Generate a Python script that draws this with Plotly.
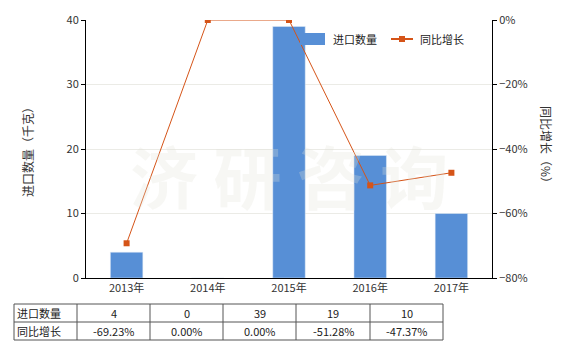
import plotly.graph_objects as go

years = ["2013年", "2014年", "2015年", "2016年", "2017年"]
qty = [4, 0, 39, 19, 10]
growth = [-69.23, 0.00, 0.00, -51.28, -47.37]
qty_labels = ["4", "0", "39", "19", "10"]
growth_labels = ["-69.23%", "0.00%", "0.00%", "-51.28%", "-47.37%"]
row_names = ["进口数量", "同比增长"]

W, H = 580, 350
L, R, T, B = 86, 492, 20, 278
FONT = "Noto Sans CJK SC, Microsoft YaHei, sans-serif"
BAR = "#578fd6"
LINE = "#d55418"

def px(x):
    return (x - L) / (R - L)

def py(y):
    return (B - y) / (B - T)

fig = go.Figure()
fig.add_trace(go.Bar(x=years, y=qty, name="进口数量", marker_color=BAR,
                     width=0.4, yaxis="y", showlegend=False))
fig.add_trace(go.Scatter(x=years, y=growth, name="同比增长", mode="lines+markers",
                         line=dict(color=LINE, width=1),
                         marker=dict(symbol="square", size=6, color=LINE),
                         yaxis="y2", showlegend=False))

shapes = []
annotations = []

# watermark
annotations.append(dict(text="<b>济 研 咨 询</b>", x=0.5, y=0.4, xref="paper", yref="paper",
                        showarrow=False, font=dict(size=68, color="rgba(225,225,215,0.28)",
                                                   family=FONT)))

# right axis title (rotated clockwise)
annotations.append(dict(text="同比增长（%）", x=px(547), y=py(147), xref="paper", yref="paper",
                        textangle=90, xanchor="center", yanchor="middle", showarrow=False,
                        font=dict(size=12, color="#333", family=FONT)))

# manual legend
shapes.append(dict(type="rect", xref="paper", yref="paper",
                   x0=px(300), x1=px(325), y0=py(45), y1=py(33),
                   fillcolor=BAR, line=dict(width=0)))
annotations.append(dict(text="进口数量", x=px(331), y=py(39), xref="paper", yref="paper",
                        xanchor="left", yanchor="middle", showarrow=False,
                        font=dict(size=11, color="#222", family=FONT)))
shapes.append(dict(type="line", xref="paper", yref="paper",
                   x0=px(391), x1=px(413), y0=py(39), y1=py(39),
                   line=dict(color=LINE, width=2)))
shapes.append(dict(type="rect", xref="paper", yref="paper",
                   x0=px(399), x1=px(405), y0=py(42), y1=py(36),
                   fillcolor=LINE, line=dict(width=0)))
annotations.append(dict(text="同比增长", x=px(418), y=py(39), xref="paper", yref="paper",
                        xanchor="left", yanchor="middle", showarrow=False,
                        font=dict(size=11, color="#222", family=FONT)))

# table
col_x = [14, 77, 150, 223, 296, 370, 443]
row_y = [304, 322, 340]
line_col = "#555555"
for y in row_y:
    shapes.append(dict(type="line", xref="paper", yref="paper",
                       x0=px(col_x[0]), x1=px(col_x[-1]), y0=py(y), y1=py(y),
                       line=dict(color=line_col, width=1)))
for x in col_x:
    shapes.append(dict(type="line", xref="paper", yref="paper",
                       x0=px(x), x1=px(x), y0=py(row_y[0]), y1=py(row_y[-1]),
                       line=dict(color=line_col, width=1)))
rows = [qty_labels, growth_labels]
for r, (name, vals) in enumerate(zip(row_names, rows)):
    yc = (row_y[r] + row_y[r + 1]) / 2
    annotations.append(dict(text=name, x=px(col_x[0] + 1), y=py(yc), xref="paper", yref="paper",
                            xanchor="left", yanchor="middle", showarrow=False,
                            font=dict(size=11, color="#222", family=FONT)))
    for c, v in enumerate(vals):
        xc = (col_x[c + 1] + col_x[c + 2]) / 2
        annotations.append(dict(text=v, x=px(xc), y=py(yc), xref="paper", yref="paper",
                                xanchor="center", yanchor="middle", showarrow=False,
                                font=dict(size=11, color="#222", family=FONT)))

fig.update_layout(
    width=W, height=H,
    margin=dict(l=L, r=W - R, t=T, b=H - B, pad=0),
    paper_bgcolor="white", plot_bgcolor="white",
    font=dict(family=FONT, size=11, color="#333"),
    showlegend=False,
    xaxis=dict(showline=True, linecolor="black", linewidth=1, ticks="",
               showgrid=False, tickfont=dict(size=11, color="#333")),
    yaxis=dict(range=[0, 40], dtick=10, showline=True, linecolor="black", linewidth=1,
               ticks="outside", ticklen=4, tickcolor="black",
               showgrid=True, gridcolor="#ebebe6", zeroline=False,
               title=dict(text="进口数量（千克）", font=dict(size=12, color="#333"), standoff=30),
               tickfont=dict(size=11, color="#333")),
    yaxis2=dict(range=[-80, 0], dtick=20, overlaying="y", side="right",
                showline=True, linecolor="black", linewidth=1,
                ticks="outside", ticklen=4, tickcolor="black",
                showgrid=False, zeroline=False, ticksuffix="%",
                tickfont=dict(size=11, color="#333")),
    shapes=shapes,
    annotations=annotations,
)

fig.write_html("out.html")
